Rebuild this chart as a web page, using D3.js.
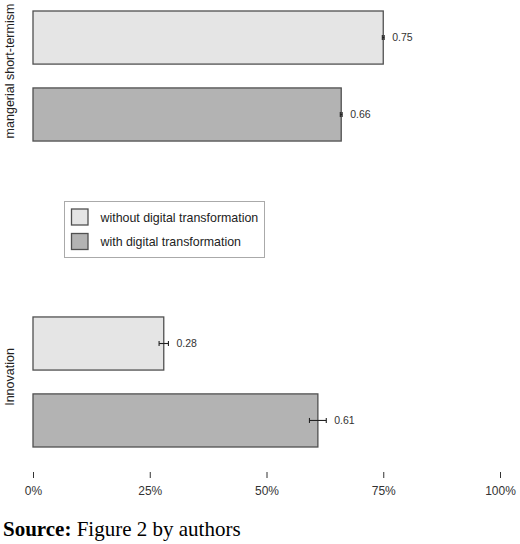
<!DOCTYPE html>
<html>
<head>
<meta charset="utf-8">
<script src="https://cdn.jsdelivr.net/npm/d3@7"></script>
<style>
  body { margin: 0; background: #fff; }
  svg { display: block; }
</style>
</head>
<body>
<script>
// categories and series
var categories = ["mangerial short-termism", "Innovation"];
var seriesNames = ["without digital transformation", "with digital transformation"];
var seriesColors = ["#e5e5e5", "#b3b3b3"];

// values (share, 0..1)
var withoutValues = [0.75, 0.28];
var withValues = [0.66, 0.61];
// half width of the error bars
var withoutErr = [0.002, 0.01];
var withErr = [0.002, 0.018];

var tickValues = [0, 0.25, 0.5, 0.75, 1];

var width = 520, height = 544;

var svg = d3.select("body").append("svg")
  .attr("width", width)
  .attr("height", height);

var x = d3.scaleLinear().domain([0, 1]).range([33, 500]);

var yGroup = d3.scaleBand()
  .domain(categories)
  .range([11, 447])
  .paddingInner(0.575)
  .paddingOuter(0);

var ySeries = d3.scaleBand()
  .domain(seriesNames)
  .range([0, yGroup.bandwidth()])
  .paddingInner(0.31)
  .paddingOuter(0);

var color = d3.scaleOrdinal().domain(seriesNames).range(seriesColors);

// flat table for drawing
var rows = [];
categories.forEach(function(c, i){
  rows.push({cat: c, series: seriesNames[0], value: withoutValues[i], err: withoutErr[i]});
  rows.push({cat: c, series: seriesNames[1], value: withValues[i], err: withErr[i]});
});

var yPos = function(d){ return yGroup(d.cat) + ySeries(d.series); };
var fmt = d3.format(".2f");

// bars
svg.append("g").selectAll("rect")
  .data(rows)
  .enter().append("rect")
  .attr("x", x(0))
  .attr("y", yPos)
  .attr("width", function(d){ return x(d.value) - x(0); })
  .attr("height", ySeries.bandwidth())
  .attr("fill", function(d){ return color(d.series); })
  .attr("stroke", "#505050")
  .attr("stroke-width", 1.3);

// error bars
var eb = svg.append("g").attr("stroke", "#222").attr("stroke-width", 1.1);
rows.forEach(function(d){
  var cy = yPos(d) + ySeries.bandwidth() / 2;
  var x1 = x(d.value - d.err), x2 = x(d.value + d.err);
  eb.append("line").attr("x1", x1).attr("x2", x2).attr("y1", cy).attr("y2", cy);
  eb.append("line").attr("x1", x1).attr("x2", x1).attr("y1", cy - 2.5).attr("y2", cy + 2.5);
  eb.append("line").attr("x1", x2).attr("x2", x2).attr("y1", cy - 2.5).attr("y2", cy + 2.5);
});

// value labels
svg.append("g").selectAll("text")
  .data(rows)
  .enter().append("text")
  .attr("x", function(d){ return x(d.value + d.err) + 8; })
  .attr("y", function(d){ return yPos(d) + ySeries.bandwidth() / 2; })
  .attr("dy", "0.35em")
  .attr("font-family", "Liberation Sans, Arial, sans-serif")
  .attr("font-size", "10.5px")
  .attr("fill", "#333")
  .text(function(d){ return fmt(d.value); });

// category titles (rotated)
svg.append("g").selectAll("text")
  .data(categories)
  .enter().append("text")
  .attr("transform", function(d){
    return "translate(14," + (yGroup(d) + yGroup.bandwidth() / 2 - 5) + ") rotate(-90)";
  })
  .attr("text-anchor", "middle")
  .attr("font-family", "Liberation Sans, Arial, sans-serif")
  .attr("font-size", "12.5px")
  .attr("fill", "#222")
  .text(function(d){ return d; });

// x axis
var xAxis = svg.append("g")
  .attr("transform", "translate(0,472)")
  .call(d3.axisBottom(x).tickValues(tickValues).tickFormat(d3.format(".0%")).tickSize(6).tickPadding(8));
xAxis.select(".domain").remove();
xAxis.selectAll(".tick line").attr("stroke", "#333");
xAxis.selectAll(".tick text")
  .attr("font-family", "Liberation Sans, Arial, sans-serif")
  .attr("font-size", "12px")
  .attr("fill", "#333");

// legend
var legend = svg.append("g").attr("transform", "translate(64.5,201.5)");
legend.append("rect")
  .attr("width", 200).attr("height", 56)
  .attr("fill", "#fff").attr("stroke", "#aaa").attr("stroke-width", 1);
var li = legend.selectAll("g.item")
  .data(seriesNames)
  .enter().append("g")
  .attr("class", "item")
  .attr("transform", function(d, i){ return "translate(7," + (7.5 + i * 24.5) + ")"; });
li.append("rect")
  .attr("width", 16.5).attr("height", 16)
  .attr("fill", function(d){ return color(d); })
  .attr("stroke", "#505050").attr("stroke-width", 1.3);
li.append("text")
  .attr("x", 29).attr("y", 8.5).attr("dy", "0.35em")
  .attr("font-family", "Liberation Sans, Arial, sans-serif")
  .attr("font-size", "12.4px")
  .attr("fill", "#222")
  .text(function(d){ return d; });

// source line
var src = svg.append("text")
  .attr("x", 3).attr("y", 536)
  .attr("font-family", "Liberation Serif, Times New Roman, serif")
  .attr("font-size", "21px")
  .attr("fill", "#000");
src.append("tspan").attr("font-weight", "bold").text("Source:");
src.append("tspan").text(" Figure 2 by authors");
</script>
</body>
</html>
